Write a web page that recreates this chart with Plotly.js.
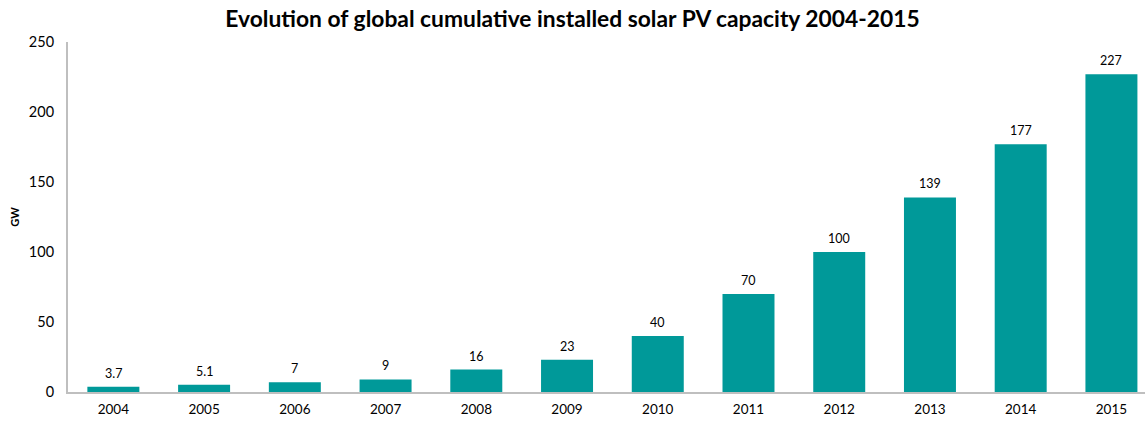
<!DOCTYPE html>
<html><head><meta charset="utf-8">
<script src="https://cdn.plot.ly/plotly-3.0.1.min.js"></script>
<style>html,body{margin:0;padding:0;background:#fff}#chart{width:1145px;height:421px}</style>
</head><body><div id="chart"></div>
<script>
const years = ['2004','2005','2006','2007','2008','2009','2010','2011','2012','2013','2014','2015'];
const capacityGW = [3.7,5.1,7,9,16,23,40,70,100,139,177,227];
const labels = ['3.7','5.1','7','9','16','23','40','70','100','139','177','227'];
const yTicks = [0,50,100,150,200,250];

const annotations = years.map((yr, i) => ({
  x: i, y: capacityGW[i], text: labels[i], showarrow: false,
  xref: 'x', yref: 'y',
  xanchor: 'center', yanchor: 'bottom', yshift: 4,
  font: {family: 'Lato, sans-serif', size: 12.5, color: '#000'}
}));

Plotly.newPlot('chart', [{
  type:'bar', x:years, y:capacityGW,
  marker:{color:'#009999'}, width:0.573, hoverinfo:'none'
}], {
  width:1145, height:421,
  margin:{l:68, r:0, t:42, b:29},
  paper_bgcolor:'#fff', plot_bgcolor:'#fff',
  title:{text:'<b>Evolution of global cumulative installed solar PV capacity 2004-2015</b>',
    font:{family:'Lato, sans-serif', size:22.8, color:'#000'}, x:0.5, xanchor:'center', y:0.955, yanchor:'middle'},
  xaxis:{type:'category', range:[-0.5, 11.37], showline:true, linecolor:'#bfbfbf', linewidth:2, ticks:'',
    ticklabelstandoff:4,
    tickfont:{family:'Lato, sans-serif', size:13.5, color:'#000'}, showgrid:false, zeroline:false},
  yaxis:{range:[0,250], tickvals:yTicks, showline:true, linecolor:'#bfbfbf', linewidth:2, ticks:'',
    showgrid:false, zeroline:false, ticklabelstandoff:9,
    tickfont:{family:'Lato, sans-serif', size:14.5, color:'#000'},
    title:{text:'<b>GW</b>', font:{family:'Lato, sans-serif', size:11, color:'#000'}, standoff:7}},
  annotations: annotations,
  showlegend:false
}, {displayModeBar:false, staticPlot:true});
</script></body></html>
